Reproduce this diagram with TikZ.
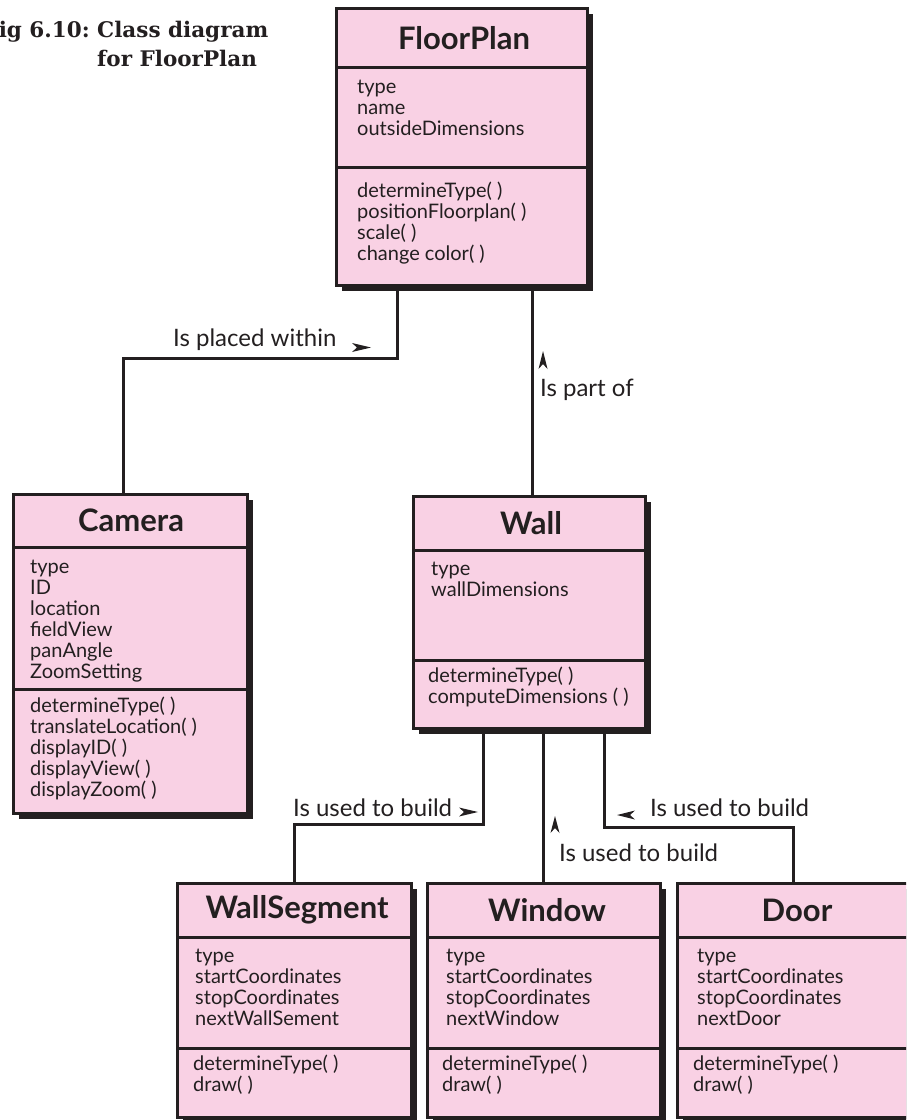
\documentclass[tikz,border=0pt]{standalone}
\usepackage{fontspec}
\setmainfont{Lato}
\newfontfamily\capfont{DejaVu Serif}
\usetikzlibrary{shadows}
\definecolor{ink}{HTML}{231F20}
\definecolor{pinkfill}{HTML}{F9D1E4}
\tikzset{
  cls/.style={draw=ink, line width=3pt, fill=pinkfill, inner sep=0pt,
    general shadow={fill=ink, shadow xshift=6pt, shadow yshift=-6pt}},
  divline/.style={draw=ink, line width=3pt},
  conn/.style={draw=ink, line width=3pt},
  ctitle/.style={text=ink, font=\bfseries\fontsize{31}{34}\selectfont, inner sep=0pt},
  body/.style={text=ink, font=\fontsize{20}{21}\selectfont, align=left, inner sep=0pt, anchor=base west},
  lbl/.style={text=ink, font=\fontsize{24}{28}\selectfont, inner sep=0pt},
  figcaption/.style={text=ink, font=\capfont\bfseries\fontsize{21.5}{30}\selectfont, inner sep=0pt},
  tipfill/.style={fill=ink}
}
\begin{document}
\begin{tikzpicture}[x=1pt,y=-1pt]
\useasboundingbox (0,0) rectangle (906,1120);
\clip (0,0) rectangle (906,1120);

% caption
\node[figcaption, anchor=base east] (fignum) at (90,37) {Fig 6.10:};
\node[figcaption, anchor=base west] (cap1) at (97,37) {Class diagram};
\node[figcaption, anchor=base west] (cap2) at (97,66) {for FloorPlan};

% class boxes
\node[cls, minimum width=251pt, minimum height=277pt] (fp) at (461.5,146.5) {};
\node[cls, minimum width=234pt, minimum height=319pt] (cam) at (130,653.5) {};
\node[cls, minimum width=232pt, minimum height=232pt] (wall) at (529,612) {};
\node[cls, minimum width=234pt, minimum height=234pt] (ws) at (294,1000) {};
\node[cls, minimum width=233pt, minimum height=234pt] (win) at (543.5,1000) {};
\node[cls, minimum width=233pt, minimum height=234pt] (door) at (793.5,1000) {};

% dividers
\draw[divline] (336,67) -- (587,67);
\draw[divline] (336,167) -- (587,167);
\draw[divline] (13,547) -- (247,547);
\draw[divline] (13,689) -- (247,689);
\draw[divline] (413,550) -- (645,550);
\draw[divline] (413,660) -- (645,660);
\draw[divline] (177,937) -- (411,937);
\draw[divline] (177,1048) -- (411,1048);
\draw[divline] (427,937) -- (660,937);
\draw[divline] (427,1048) -- (660,1048);
\draw[divline] (677,937) -- (910,937);
\draw[divline] (677,1048) -- (910,1048);

% titles
\node[ctitle] (fpT) at (464,38) {FloorPlan};
\node[ctitle] (camT) at (131,520) {Camera};
\node[ctitle] (wallT) at (531,523) {Wall};
\node[ctitle] (wsT) at (297,910) {WallSegment};
\node[ctitle] (winT) at (547,910) {Window};
\node[ctitle] (doorT) at (797,910) {Door};

% attributes and operations (anchor = baseline of last line)
\node[body] (fpA) at (357,135) {type\\name\\outsideDimensions};
\node[body] (fpM) at (357,260) {determineType( )\\positionFloorplan( )\\scale( )\\change color( )};
\node[body] (camA) at (30,678) {type\\ID\\location\\fieldView\\panAngle\\ZoomSetting};
\node[body] (camM) at (30,796) {determineType( )\\translateLocation( )\\displayID( )\\displayView( )\\displayZoom( )};
\node[body] (wallA) at (431,596) {type\\wallDimensions};
\node[body] (wallM) at (428,703) {determineType( )\\computeDimensions ( )};
\node[body] (wsA) at (195,1025) {type\\startCoordinates\\stopCoordinates\\nextWallSement};
\node[body] (wsM) at (193,1091) {determineType( )\\draw( )};
\node[body] (winA) at (446,1025) {type\\startCoordinates\\stopCoordinates\\nextWindow};
\node[body] (winM) at (442,1091) {determineType( )\\draw( )};
\node[body] (doorA) at (697,1025) {type\\startCoordinates\\stopCoordinates\\nextDoor};
\node[body] (doorM) at (693,1091) {determineType( )\\draw( )};

% connector points
\coordinate (camtop) at ([xshift=-7pt]cam.north);
\coordinate (fpL) at ([xshift=-64.5pt]fp.south);
\coordinate (fpR) at ([xshift=70.5pt]fp.south);
\coordinate (walltop) at ([xshift=3pt]wall.north);
\coordinate (wallL) at ([xshift=-46pt]wall.south);
\coordinate (wallC) at ([xshift=15pt]wall.south);
\coordinate (wallR) at ([xshift=75pt]wall.south);
\coordinate (y1) at (0,358);
\coordinate (y2) at (0,824);
\coordinate (y3) at (0,827);

% connectors
\draw[conn] (camtop) -- (camtop |- y1) -- (fpL |- y1) -- (fpL);
\draw[conn] (walltop) -- (walltop |- fpR) ;
\draw[conn] (ws.north) -- (ws.north |- y2) -- (wallL |- y2) -- (wallL);
\draw[conn] (win.north) -- (win.north |- wallC);
\draw[conn] (door.north) -- (door.north |- y3) -- (wallR |- y3) -- (wallR);

% labels
\node[lbl, anchor=west] (l1) at (173,340) {Is placed within};
\node[lbl, anchor=west] (l2) at (540,390) {Is part of};
\node[lbl, anchor=west] (l3) at (293,808) {Is used to build};
\node[lbl, anchor=west] (l4) at (559,853) {Is used to build};
\node[lbl, anchor=west] (l5) at (650,808) {Is used to build};

% direction arrowheads
\fill[tipfill] (352,343) -- (371,347.5) -- (352,352) -- (357,347.5) -- cycle;
\fill[tipfill] (538.5,369) -- (543,351) -- (547.5,369) -- (543,364) -- cycle;
\fill[tipfill] (459,807.5) -- (478,812) -- (459,816.5) -- (464,812) -- cycle;
\fill[tipfill] (550.5,833) -- (555,816) -- (559.5,833) -- (555,828) -- cycle;
\fill[tipfill] (635,810.5) -- (617,815) -- (635,819.5) -- (630,815) -- cycle;
\end{tikzpicture}
\end{document}
